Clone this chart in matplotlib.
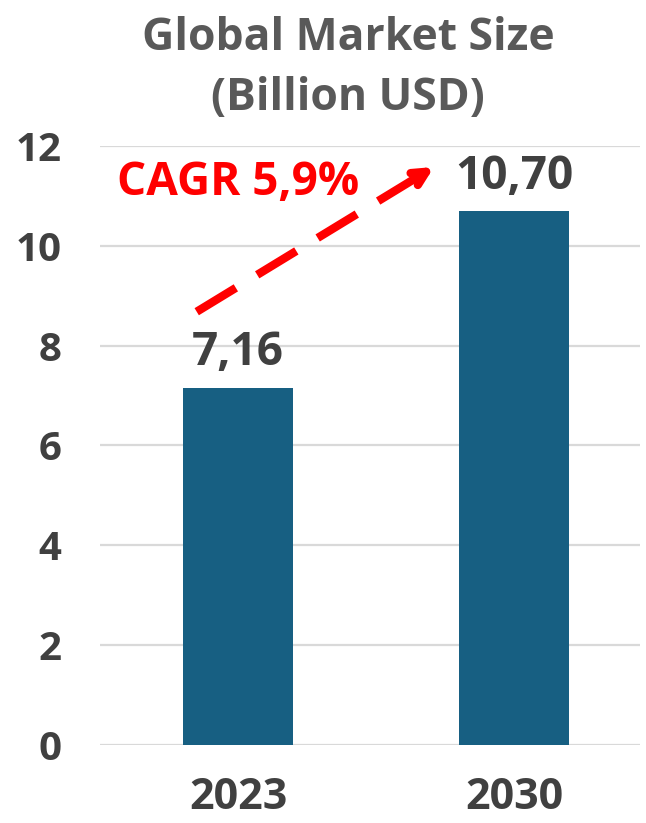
import numpy as np
import matplotlib
matplotlib.use("Agg")
import matplotlib.pyplot as plt

years = ["2023", "2030"]
market_size = [7.16, 10.70]
cagr_label = "CAGR 5,9%"
y_ticks = [0, 2, 4, 6, 8, 10, 12]

bar_color = "#175f82"
text_dark = "#404040"
title_gray = "#595959"

plt.rcParams['font.family'] = ['Open Sans', 'DejaVu Sans']

fig = plt.figure(figsize=(6.46, 8.23), dpi=100)
ax = fig.add_axes([0.155, 0.0948, 0.836, 0.7278])

x = np.arange(len(years))
ax.bar(x, market_size, width=0.4, color=bar_color, zorder=3)

ax.set_xlim(-0.5, 1.457)
ax.set_ylim(0, 12)
ax.set_yticks(y_ticks)
ax.set_yticklabels([str(t) for t in y_ticks])
ax.set_xticks(x)
ax.set_xticklabels(years)
ax.yaxis.grid(True, color="#d9d9d9", lw=1.6, zorder=0)
for s in ax.spines.values():
    s.set_visible(False)
ax.tick_params(axis="y", length=0, pad=28, labelsize=29, labelcolor=text_dark)
ax.tick_params(axis="x", length=0, pad=22, labelsize=31, labelcolor=text_dark)
for lbl in ax.get_xticklabels() + ax.get_yticklabels():
    lbl.set_fontweight("bold")

# value labels
for xi, v in zip(x, market_size):
    ax.annotate(f"{v:.2f}".replace(".", ","), (xi, v), xytext=(0, 16),
                textcoords="offset points", ha="center", va="baseline",
                fontsize=33, fontweight="bold", color=text_dark)

# dashed CAGR arrow
start = (-0.15, market_size[0] + 1.52)
end = (0.71, market_size[1] + 0.88)
frac = 0.92
mid = (start[0] + (end[0] - start[0]) * frac, start[1] + (end[1] - start[1]) * frac)
ax.plot([start[0], mid[0]], [start[1], mid[1]], color="red", lw=6,
        dashes=(5.5, 3.0), dash_capstyle="butt", zorder=4)
ax.annotate("", xy=end, xytext=mid,
            arrowprops=dict(arrowstyle="->,head_length=1.0,head_width=0.5",
                            color="red", lw=6, capstyle="round",
                            joinstyle="round", shrinkA=0, shrinkB=0), zorder=4)
ax.text(-0.44, 11.02, cagr_label, color="red", fontsize=33, fontweight="bold",
        ha="left", va="baseline")

fig.text(0.539, 0.9392, "Global Market Size", ha="center", va="baseline",
         fontsize=32, fontweight="bold", color=title_gray)
fig.text(0.539, 0.8663, "(Billion USD)", ha="center", va="baseline",
         fontsize=32, fontweight="bold", color=title_gray)

fig.savefig("out.png", dpi=100)
